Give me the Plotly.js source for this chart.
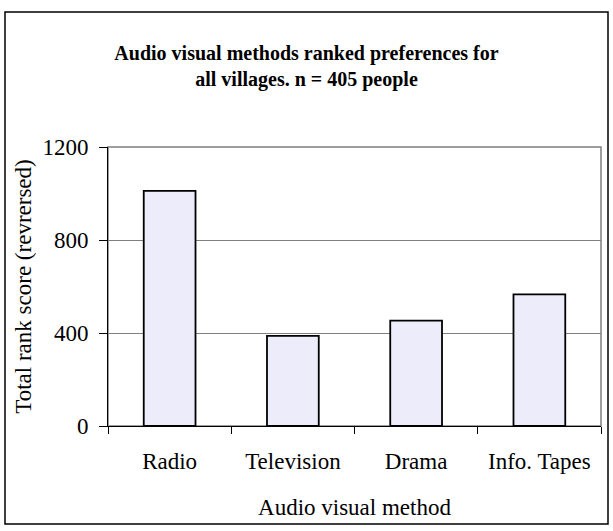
<!DOCTYPE html>
<html>
<head>
<meta charset="utf-8">
<script src="https://cdn.plot.ly/plotly-3.0.1.min.js"></script>
<style>html,body{margin:0;padding:0;background:#fff;}#chart{width:613px;height:531px;}</style>
</head>
<body>
<div id="chart"></div>
<script>
const categories = ["Radio", "Television", "Drama", "Info. Tapes"];
const scores = [1011, 388, 453, 566];
const yTicks = [0, 400, 800, 1200];

const serif = "'Liberation Serif', 'Times New Roman', serif";
const W = 613, H = 531;
const mL = 108, mR = 12, mT = 147, mB = 105;
const pw = W - mL - mR, ph = H - mT - mB;
const px = v => (v - mL) / pw;
const py = v => (H - mB - v) / ph;

const trace = {
  type: "bar",
  x: categories,
  y: scores,
  width: 0.42,
  marker: { color: "#ECECFB", line: { color: "#000000", width: 1.8 } },
  hoverinfo: "skip"
};

const layout = {
  width: W, height: H,
  margin: { l: mL, r: mR, t: mT, b: mB },
  paper_bgcolor: "#ffffff",
  plot_bgcolor: "#ffffff",
  font: { family: serif, color: "#000000", size: 23 },
  showlegend: false,
  title: {
    text: "<b>Audio visual methods ranked preferences for<br>all villages. n = 405 people</b>",
    font: { family: serif, size: 20, color: "#000000" },
    x: 0.5, xref: "container", xanchor: "center",
    y: 1 - 60 / H, yref: "container", yanchor: "middle"
  },
  xaxis: {
    type: "category",
    showline: true, linecolor: "#000000", linewidth: 1,
    ticks: "outside", tickson: "boundaries", ticklen: 7, tickcolor: "#000000", tickwidth: 1,
    ticklabelstandoff: 14,
    tickfont: { family: serif, size: 23, color: "#000000" },
    showgrid: false,
    title: { text: "Audio visual method", font: { family: serif, size: 23, color: "#000000" }, standoff: 26 },
    fixedrange: true
  },
  yaxis: {
    range: [0, 1200],
    tickvals: yTicks,
    ticktext: yTicks.map(String),
    showline: true, linecolor: "#000000", linewidth: 1,
    ticks: "outside", ticklen: 8, tickcolor: "#000000",
    ticklabelstandoff: 6,
    tickfont: { family: serif, size: 23, color: "#000000" },
    showgrid: true, gridcolor: "#7f7f7f", gridwidth: 1,
    zeroline: false,
    title: { text: "Total rank score (revrersed)", font: { family: serif, size: 23, color: "#000000" }, standoff: 4 },
    fixedrange: true
  },
  shapes: [
    { type: "rect", xref: "paper", yref: "paper", x0: 0, x1: 1, y0: 0, y1: 1,
      line: { color: "#7f7f7f", width: 1.5 }, fillcolor: "rgba(0,0,0,0)", layer: "below" },
    { type: "rect", xref: "paper", yref: "paper", x0: px(5), x1: px(608), y0: py(524), y1: py(12),
      line: { color: "#000000", width: 1.5 }, fillcolor: "rgba(0,0,0,0)" }
  ]
};

Plotly.newPlot("chart", [trace], layout, { displayModeBar: false, staticPlot: true });
</script>
</body>
</html>
